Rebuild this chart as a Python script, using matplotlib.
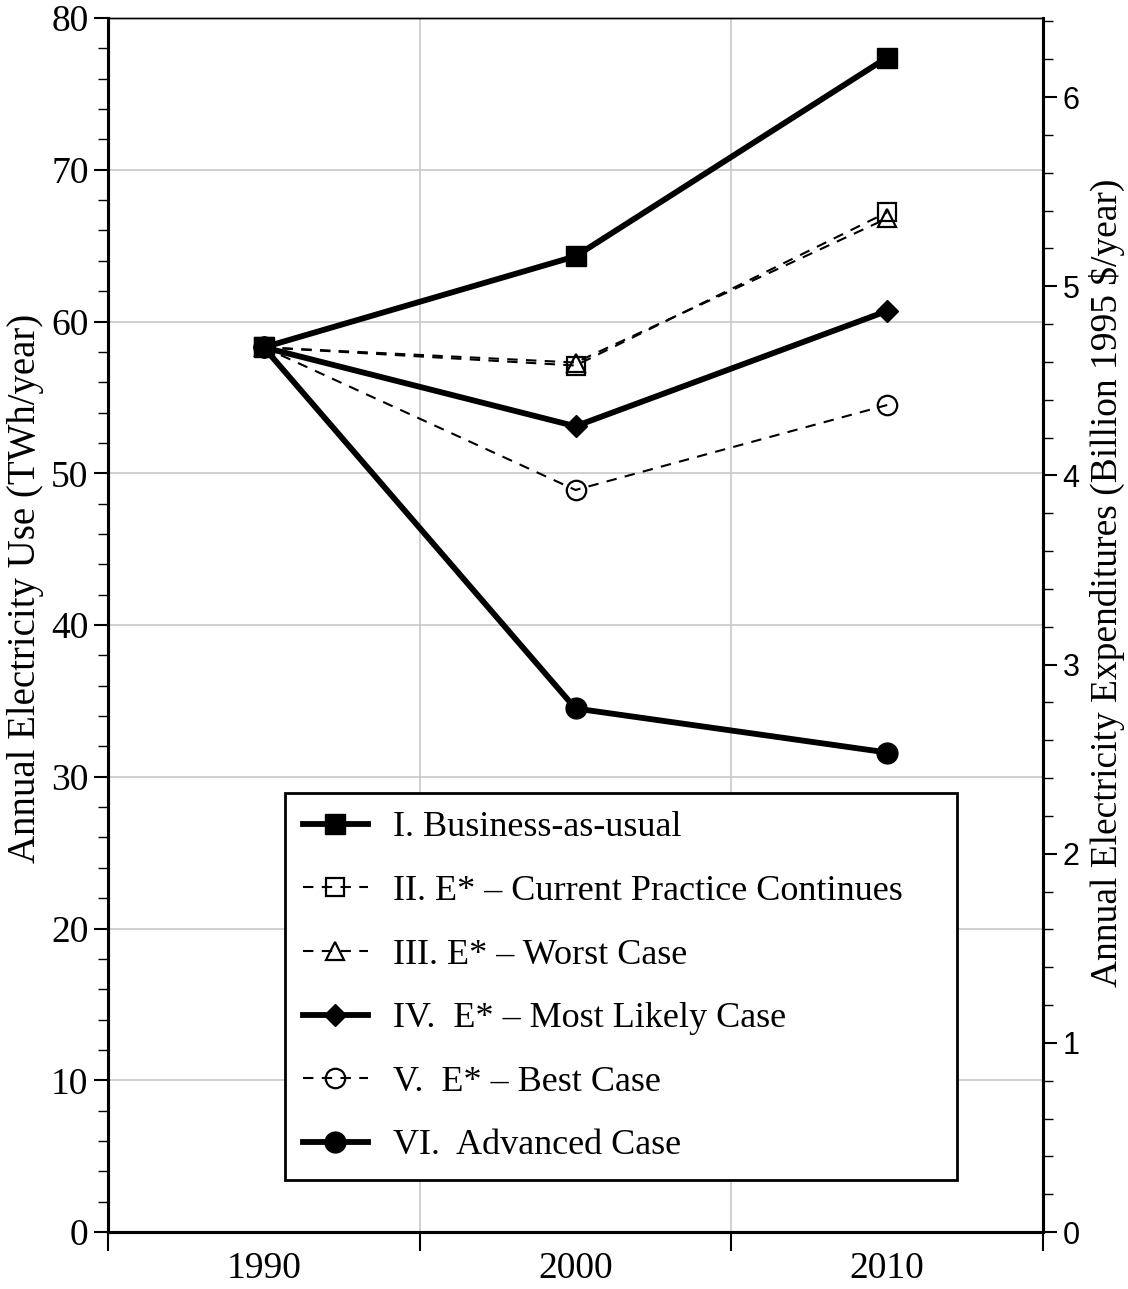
import matplotlib
matplotlib.use("Agg")
from matplotlib import pyplot as plt
from matplotlib.ticker import MultipleLocator, FixedLocator, NullFormatter, FixedFormatter
import numpy as np

plt.rcParams['font.family'] = ['Liberation Serif', 'DejaVu Serif']

# data (TWh/year)
years = [1990, 2000, 2010]
bau = [58.3, 64.3, 77.4]
current_practice = [58.3, 57.1, 67.2]
worst_case = [58.3, 57.3, 66.8]
most_likely = [58.3, 53.1, 60.7]
best_case = [58.3, 48.9, 54.5]
advanced = [58.3, 34.5, 31.6]

labels = ['I. Business-as-usual',
          'II. E* \u2013 Current Practice Continues',
          'III. E* \u2013 Worst Case',
          'IV.  E* \u2013 Most Likely Case',
          'V.  E* \u2013 Best Case',
          'VI.  Advanced Case']

fig = plt.figure(figsize=(11.28, 12.89), dpi=100)
ax = fig.add_axes([0.0957, 0.0442, 0.829, 0.9418])

thick = dict(color='black', lw=4.2, solid_joinstyle='miter')
thin = dict(color='black', lw=1.5, linestyle=(0, (5, 4)), fillstyle='none', mew=1.6)

ax.plot(years, bau, marker='s', ms=15, label=labels[0], **thick)
ax.plot(years, current_practice, marker='s', ms=13, label=labels[1], **thin)
ax.plot(years, worst_case, marker='^', ms=13, label=labels[2], **thin)
ax.plot(years, most_likely, marker='D', ms=11, label=labels[3], **thick)
ax.plot(years, best_case, marker='o', ms=14, label=labels[4], **thin)
ax.plot(years, advanced, marker='o', ms=15, label=labels[5], **thick)

ax.set_xlim(1985, 2015)
ax.set_ylim(0, 80)

# x: long ticks at the half decades, labels at the decades
ax.xaxis.set_major_locator(FixedLocator([1985, 1995, 2005, 2015]))
ax.xaxis.set_major_formatter(NullFormatter())
ax.xaxis.set_minor_locator(FixedLocator(years))
ax.xaxis.set_minor_formatter(FixedFormatter([str(y) for y in years]))
ax.tick_params(axis='x', which='major', length=14, width=1.5, direction='out')
ax.tick_params(axis='x', which='minor', length=0, labelsize=27, pad=14)

ax.yaxis.set_major_locator(MultipleLocator(10))
ax.yaxis.set_minor_locator(MultipleLocator(2))
ax.tick_params(axis='y', which='major', length=10, width=1.5, labelsize=27, pad=4)
ax.tick_params(axis='y', which='minor', length=7, width=1.0)

ax.grid(True, which='major', color='#c8c8c8', lw=1.2)
ax.set_axisbelow(True)
ax.set_ylabel('Annual Electricity Use (TWh/year)', fontsize=28)
ax.yaxis.set_label_coords(-0.068, 0.53)

for side in ['left', 'bottom', 'right']:
    ax.spines[side].set_linewidth(2.2)
ax.spines['top'].set_linewidth(1.0)

leg = ax.legend(loc='upper left', bbox_to_anchor=(0.189, 0.0453, 0.719, 0.3163),
                mode='expand', fontsize=26,
                frameon=True, fancybox=False, edgecolor='black', framealpha=1,
                handlelength=1.8, handletextpad=0.7, labelspacing=0.84,
                borderpad=0.5, borderaxespad=0)
leg.get_frame().set_linewidth(2.0)

ax2 = ax.twinx()
ax2.set_ylim(0, 6.418)
ax2.yaxis.set_major_locator(MultipleLocator(1))
ax2.yaxis.set_minor_locator(MultipleLocator(0.2))
ax2.tick_params(axis='y', which='major', length=10, width=1.5, labelsize=22, pad=4)
ax2.tick_params(axis='y', which='minor', length=7, width=1.0)
for t in ax2.get_yticklabels():
    t.set_fontfamily(['Liberation Sans', 'DejaVu Sans'])
ax2.set_ylabel('Annual Electricity Expenditures (Billion 1995 $/year)', fontsize=27)
ax2.yaxis.set_label_coords(1.049, 0.535)
for side in ['left', 'bottom', 'right']:
    ax2.spines[side].set_linewidth(2.2)
ax2.spines['top'].set_linewidth(1.0)

fig.savefig('out.png', dpi=100)
